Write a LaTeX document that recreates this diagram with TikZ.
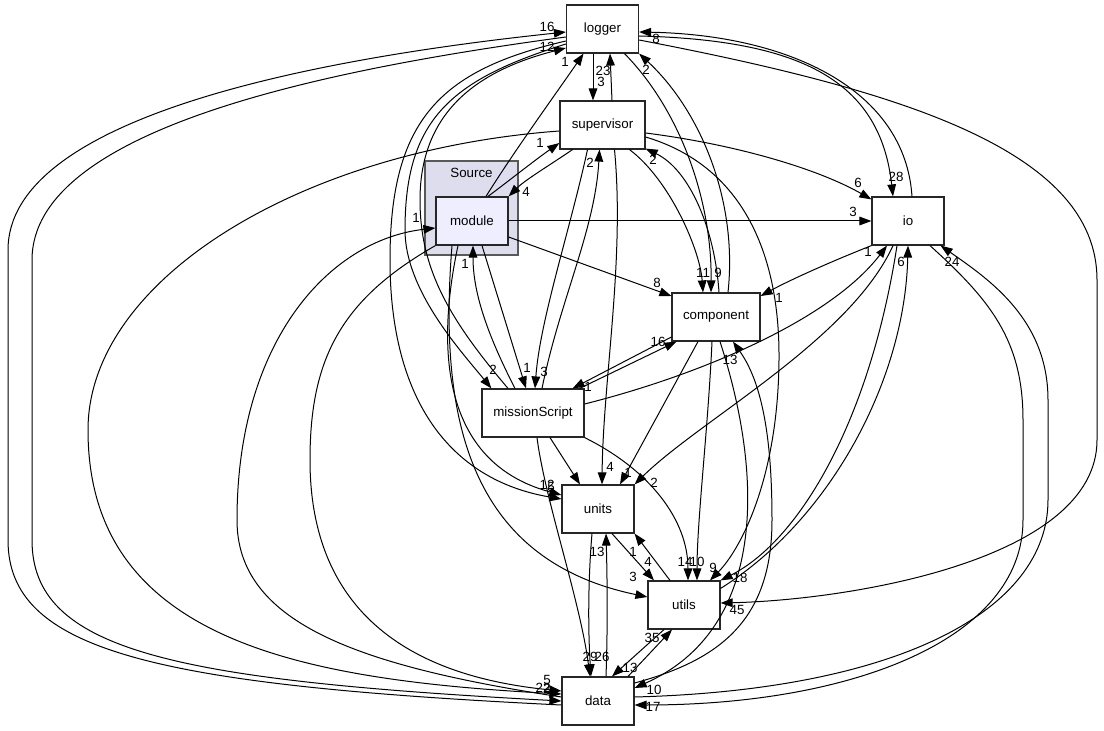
\documentclass[tikz,border=0pt]{standalone}
\usepackage{fontspec}
\setmainfont{Liberation Sans}
\usetikzlibrary{arrows.meta,calc}
\definecolor{srcfill}{HTML}{DDDDEE}
\definecolor{modfill}{HTML}{EEEEFF}

\begin{document}
\begin{tikzpicture}[x=0.75pt,y=-0.75pt, every node/.style={font=\fontsize{10}{12}\selectfont}]
\tikzset{dirbox/.style={draw=black!85, line width=0.9pt, fill=white, minimum width=54pt, minimum height=36pt, inner sep=0pt}}
\tikzset{dep/.style={line width=0.75pt, -{Triangle[length=9pt,width=6.5pt]}}}
\tikzset{lbl/.style={inner sep=0pt}}
\useasboundingbox (0,0) rectangle (1104,731);
\node[draw=black!65, fill=srcfill, line width=0.9pt, minimum width=69.75pt, minimum height=70.5pt, inner sep=0pt] (src) at (471.5,208) {};
\node (srclbl) at (471.5,173) {Source};
\node[dirbox] (logger) at (602.5,29) {logger};
\node[dirbox, minimum width=63.75pt] (supervisor) at (602.5,125) {supervisor};
\node[dirbox, fill=modfill] (module) at (472,221) {module};
\node[dirbox] (io) at (908,221) {io};
\node[dirbox, minimum width=66pt] (component) at (716,317) {component};
\node[dirbox, minimum width=76.5pt] (missionScript) at (533,413) {missionScript};
\node[dirbox] (units) at (598,509) {units};
\node[dirbox] (utils) at (684,605) {utils};
\node[dirbox] (data) at (598,701) {data};
% logger / supervisor / module
\draw[dep] ($(logger.south)+(-9.5,0)$) -- ($(supervisor.north)+(-9.5,0)$);
\draw[dep] ($(supervisor.north)+(9.5,0)$) -- ($(logger.south)+(7.5,0)$);
\draw[dep] ($(module.north)+(14,0)$) .. controls (515,150) and (555,95) .. ($(logger.south)+(-19,0)$);
\draw[dep] ($(module.north)+(16,0)$) .. controls (510,180) and (535,160) .. ($(supervisor.west)+(0,18)$);
\draw[dep] ($(supervisor.south)+(-30,0)$) .. controls (550,165) and (525,180) .. (module.north east);
\draw[dep] (module.east) -- (io.west);
\draw[dep] ($(module.east)+(0,16)$) -- ($(component.west)+(0,-21)$);
% io
\draw[dep] ($(supervisor.east)+(0,8)$) .. controls (740,145) and (820,170) .. ($(io.north west)+(0,3)$);
\draw[dep] ($(logger.east)+(0,7)$) .. controls (800,40) and (880,80) .. ($(io.north)+(-15,0)$);
\draw[dep] ($(io.north)+(4,0)$) .. controls (905,90) and (790,35) .. ($(logger.east)+(0,3)$);
\draw[dep] ($(logger.east)+(0,11)$) .. controls (900,90) and (1097,150) .. (1097,280) -- (1097,440) .. controls (1097,560) and (850,600) .. ($(utils.east)+(0,-2)$);
\draw[dep] (io.south west) .. controls (830,262) and (790,280) .. ($(component.east)+(0,-21)$);
\draw[dep] ($(missionScript.east)+(0,-9)$) .. controls (700,375) and (830,320) .. ($(io.south)+(-21,0)$);
\draw[dep] ($(io.south)+(-15,0)$) .. controls (850,340) and (700,420) .. (units.north east);
\draw[dep] ($(io.south)+(-11,0)$) .. controls (870,420) and (800,540) .. (utils.north east);
\draw[dep] ($(utils.north east)+(0,8)$) .. controls (830,520) and (905,380) .. (io.south);
\draw[dep] ($(data.east)+(0,-4)$) .. controls (900,690) and (1048,610) .. (1048,500) -- (1048,400) .. controls (1048,320) and (990,280) .. ($(io.south east)+(-4,0)$);
\draw[dep] ($(io.south)+(22,0)$) .. controls (990,300) and (1023,340) .. (1023,420) -- (1023,520) .. controls (1023,640) and (850,705) .. ($(data.east)+(0,4)$);
% component
\draw[dep] ($(missionScript.north east)+(-5,0)$) -- ($(component.south west)+(5,0)$);
\draw[dep] ($(component.west)+(0,20)$) -- ($(missionScript.north east)+(-12,0)$);
\draw[dep] ($(component.south)+(-18,0)$) -- ($(units.north)+(22,0)$);
\draw[dep] ($(component.south)+(-4,0)$) .. controls (708,430) and (697,520) .. ($(utils.north)+(13,0)$);
\draw[dep] ($(component.south)+(4,0)$) .. controls (765,480) and (765,630) .. ($(data.east)+(0,-13)$);
\draw[dep] ($(data.east)+(0,-18)$) .. controls (720,660) and (772,620) .. (772,520) .. controls (772,430) and (760,380) .. ($(component.south)+(17,0)$);
\draw[dep] ($(supervisor.south)+(27,0)$) .. controls (670,180) and (700,250) .. ($(component.north)+(-13,0)$);
\draw[dep] ($(component.north)+(3,0)$) .. controls (715,230) and (690,170) .. ($(supervisor.south east)+(0,-1)$);
\draw[dep] ($(logger.south)+(22,0)$) .. controls (680,110) and (712,200) .. ($(component.north)+(-5,0)$);
\draw[dep] ($(component.north)+(12,0)$) .. controls (738,200) and (700,110) .. (logger.south east);
% supervisor downwards
\draw[dep] ($(supervisor.south)+(12,0)$) .. controls (625,260) and (603,380) .. ($(units.north)+(4,0)$);
\draw[dep] ($(supervisor.east)+(0,12)$) .. controls (740,165) and (780,250) .. (779,360) .. controls (778,480) and (740,550) .. ($(utils.north)+(26,0)$);
\draw[dep] ($(missionScript.north)+(9,0)$) .. controls (560,300) and (595,230) .. ($(supervisor.south)+(-3,0)$);
\draw[dep] ($(supervisor.south)+(-15,0)$) .. controls (570,230) and (540,320) .. ($(missionScript.north)+(2,0)$);
% module / missionScript
\draw[dep] ($(module.south)+(10,0)$) -- ($(missionScript.north)+(-7,0)$);
\draw[dep] ($(missionScript.north)+(-18,0)$) .. controls (485,330) and (473,290) .. ($(module.south)+(1,0)$);
\draw[dep] ($(logger.west)+(0,15)$) .. controls (450,80) and (405,120) .. (405,230) .. controls (405,290) and (460,350) .. ($(missionScript.north west)+(10,0)$);
\draw[dep] ($(missionScript.north)+(-25,0)$) .. controls (450,320) and (420,270) .. (420,200) .. controls (420,110) and (480,70) .. ($(logger.west)+(0,19)$);
\draw[dep] ($(logger.west)+(0,12)$) .. controls (440,70) and (390,120) .. (390,260) .. controls (390,400) and (450,480) .. ($(units.west)+(0,-10)$);
\draw[dep] ($(module.south)+(-14,0)$) .. controls (440,330) and (432,460) .. ($(units.west)+(0,-14)$);
\draw[dep] ($(module.south)+(-20,0)$) .. controls (438,420) and (470,560) .. ($(utils.west)+(0,-8)$);
% long curves into data
\draw[dep] ($(data.west)+(0,-4)$) .. controls (350,665) and (237,620) .. (237,520) .. controls (237,340) and (330,240) .. ($(module.west)+(0,7)$);
\draw[dep] (module.south west) .. controls (340,300) and (310,360) .. (310,460) .. controls (310,640) and (450,680) .. ($(data.west)+(0,-10)$);
\draw[dep] ($(supervisor.west)+(0,6)$) .. controls (300,150) and (88,280) .. (88,430) .. controls (88,640) and (300,680) .. ($(data.west)+(0,-7)$);
\draw[dep] ($(data.west)+(0,4)$) .. controls (150,685) and (8,650) .. (8,540) -- (8,250) .. controls (8,120) and (300,60) .. ($(logger.west)+(0,3)$);
\draw[dep] ($(logger.west)+(0,8)$) .. controls (320,70) and (32,130) .. (32,260) -- (32,540) .. controls (32,650) and (170,680) .. (data.west);
% units / utils / data
\draw[dep] ($(missionScript.south)+(4,0)$) .. controls (545,500) and (580,600) .. ($(data.north)+(-8,0)$);
\draw[dep] ($(units.south)+(-6,0)$) .. controls (588,580) and (588,630) .. ($(data.north)+(-7,0)$);
\draw[dep] ($(data.north)+(8,0)$) .. controls (608,620) and (607,570) .. ($(units.south)+(8,0)$);
\draw[dep] ($(units.south)+(14,0)$) -- ($(utils.north)+(-30,0)$);
\draw[dep] ($(utils.north)+(-14,0)$) -- (units.south east);
\draw[dep] ($(utils.south)+(-20,0)$) -- ($(data.north)+(14,0)$);
\draw[dep] ($(data.north)+(30,0)$) -- ($(utils.south)+(-12,0)$);
\draw[dep] ($(missionScript.south)+(17,0)$) -- ($(units.north)+(-18,0)$);
\draw[dep] (missionScript.south east) .. controls (650,470) and (688,520) .. ($(utils.north)+(4,0)$);
% edge counts
\foreach \x/\y/\t [count=\i] in {601/82/3, 603/71/23, 565/62/1, 540/143/1, 526/192/4, 853/212/3, 657/283/8,
  858/183/6, 896/177/28, 656/39/8, 737/610/45, 779/298/1, 868/252/1, 654/483/2, 740/578/18, 901/262/6,
  952/262/24, 653/707/17, 658/342/16, 588/387/1, 628/473/1, 697/562/10, 654/690/10, 730/360/13,
  610/467/4, 713/568/9, 703/273/11, 653/160/2, 718/273/9, 646/70/2, 590/163/2, 544/372/3, 527/368/1,
  465/264/1, 493/370/2, 547/47/12, 547/27/16, 547/485/12, 551/487/5, 416/218/1, 547/680/5, 543/688/22,
  547/689/2, 590/657/29, 602/657/26, 597/552/13, 648/562/4, 633/577/3, 633/552/1, 685/562/14,
  630/668/13, 652/638/35}
  \node[lbl] (lbl\i) at (\x,\y) {\t};
\end{tikzpicture}
\end{document}
